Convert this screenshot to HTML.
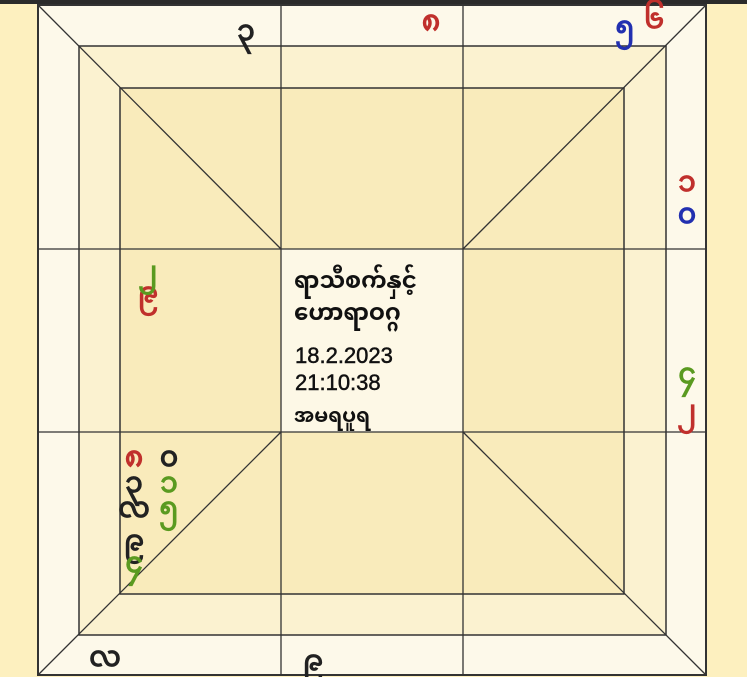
<!DOCTYPE html>
<html><head><meta charset="utf-8">
<style>
html,body{margin:0;padding:0;background:#fdf0bf;}
svg{display:block;}
text{font-family:"Liberation Sans","Noto Sans Myanmar","Padauk",sans-serif;}
</style></head>
<body>
<svg width="747" height="677" viewBox="0 0 747 677">
<rect x="0" y="0" width="747" height="677" fill="#fdf0bf"/>
<rect x="0" y="0" width="747" height="4" fill="#2b2b2b"/>
<rect x="38" y="5" width="668" height="670" fill="#fdf9ea" stroke="#333" stroke-width="2"/>
<rect x="79" y="46" width="587" height="589" fill="#fbf2d0" stroke="#333" stroke-width="1.5"/>
<rect x="120" y="88" width="504" height="506" fill="#f9ebbb" stroke="#333" stroke-width="1.5"/>
<rect x="281" y="249" width="182" height="183" fill="#fdf8e6"/>
<g stroke="#333" stroke-width="1.3">
<line x1="281" y1="5" x2="281" y2="675"/>
<line x1="463" y1="5" x2="463" y2="675"/>
<line x1="38" y1="249" x2="706" y2="249"/>
<line x1="38" y1="432" x2="706" y2="432"/>
<line x1="38" y1="5" x2="281" y2="249"/>
<line x1="706" y1="5" x2="463" y2="249"/>
<line x1="38" y1="675" x2="281" y2="432"/>
<line x1="706" y1="675" x2="463" y2="432"/>
</g>
<g font-size="28" text-anchor="middle" stroke-width="1.2">
<text x="246" y="40" fill="#222" stroke="#222">၃</text>
<text x="431" y="30" fill="#c0302c" stroke="#c0302c">၈</text>
<text x="625" y="36" fill="#2230b0" stroke="#2230b0">၅</text>
<text x="654" y="28" fill="#c0302c" stroke="#c0302c">၆</text>
<text x="687" y="191" fill="#c0302c" stroke="#c0302c">၁</text>
<text x="687" y="223" fill="#2230b0" stroke="#2230b0">၀</text>
<text x="687" y="383" fill="#5a9a20" stroke="#5a9a20">၄</text>
<text x="687" y="420" fill="#c0302c" stroke="#c0302c">၂</text>
<text x="148" y="302" fill="#c0302c" stroke="#c0302c">၉</text>
<text x="148" y="281" fill="#5a9a20" stroke="#5a9a20">၂</text>
<text x="134" y="466" fill="#c0302c" stroke="#c0302c">၈</text>
<text x="169" y="466" fill="#222" stroke="#222">၀</text>
<text x="134" y="492" fill="#222" stroke="#222">၃</text>
<text x="169" y="492" fill="#5a9a20" stroke="#5a9a20">၁</text>
<text x="134" y="517" fill="#222" stroke="#222">လ</text>
<text x="169" y="517" fill="#5a9a20" stroke="#5a9a20">၅</text>
<text x="134" y="550" fill="#222" stroke="#222">၉</text>
<text x="134" y="572" fill="#5a9a20" stroke="#5a9a20">၄</text>
<text x="105" y="666" fill="#222" stroke="#222">လ</text>
<text x="313" y="670" fill="#222" stroke="#222">၉</text>
</g>
<g fill="#111" font-weight="bold">
<text x="294" y="288" font-size="23">ရာသီစက်နှင့်</text>
<text x="294" y="320" font-size="23">ဟောရာဝဂ္ဂ</text>
<text x="295" y="363" font-size="22" font-weight="normal" stroke="#111" stroke-width="0.5">18.2.2023</text>
<text x="295" y="390" font-size="22" font-weight="normal" stroke="#111" stroke-width="0.5">21:10:38</text>
<text x="294" y="422" font-size="20">အမရပူရ</text>
</g>
</svg>
</body></html>
